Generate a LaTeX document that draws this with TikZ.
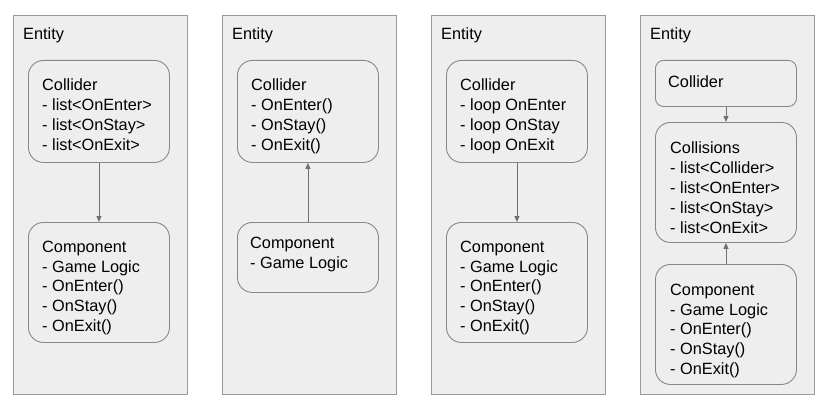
\documentclass[tikz,border=0pt]{standalone}
\usepackage{fontspec}
\setmainfont{Liberation Sans}
\usetikzlibrary{arrows.meta,calc}
\definecolor{panelfill}{HTML}{EEEEEE}
\definecolor{panelline}{HTML}{9A9A9A}
\definecolor{boxline}{HTML}{888888}
\definecolor{arrowc}{HTML}{707070}
\begin{document}
\begin{tikzpicture}[x=1pt,y=-1pt,
  panel/.style={draw=panelline, fill=panelfill, line width=0.9pt, anchor=north west, minimum width=174pt, minimum height=379pt, inner sep=0pt},
  box/.style={draw=boxline, fill=panelfill, line width=0.9pt, rounded corners=15pt, anchor=north west, minimum width=141pt, inner sep=0pt},
  txt/.style={anchor=north west, inner sep=0pt, align=left, font=\fontsize{16.3}{19.8}\selectfont, text=black},
  conn/.style={draw=arrowc, line width=0.9pt, -{Triangle[width=5pt,length=6pt]}}]
\useasboundingbox (0,0) rectangle (821,404);
\fill[white] (0,0) rectangle (821,404);
% panels
\node[panel] (p1) at (13,15) {};
\node[panel] (p2) at (222,15) {};
\node[panel] (p3) at (431,15) {};
\node[panel] (p4) at (640,15) {};
\node[txt] (e1) at (23,27.8) {Entity};
\node[txt] (e2) at (232,27.8) {Entity};
\node[txt] (e3) at (441,27.8) {Entity};
\node[txt] (e4) at (650,27.8) {Entity};
% panel 1
\node[box, minimum height=102pt] (c1) at (28,60) {};
\node[txt] (c1t) at (42,78.8) {Collider\\- list<OnEnter>\\- list<OnStay>\\- list<OnExit>};
\node[box, minimum height=120pt] (m1) at (28,222) {};
\node[txt] (m1t) at (42,240.8) {Component\\- Game Logic\\- OnEnter()\\- OnStay()\\- OnExit()};
\draw[conn] (c1.south) -- (m1.north);
% panel 2
\node[box, minimum height=102pt] (c2) at (237,60) {};
\node[txt] (c2t) at (251,78.8) {Collider\\- OnEnter()\\- OnStay()\\- OnExit()};
\node[box, minimum height=70pt] (m2) at (237,222) {};
\node[txt] (m2t) at (250,236.8) {Component\\- Game Logic};
\draw[conn] (m2.north) -- (c2.south);
% panel 3
\node[box, minimum height=102pt] (c3) at (446,60) {};
\node[txt] (c3t) at (460,78.8) {Collider\\- loop OnEnter\\- loop OnStay\\- loop OnExit};
\node[box, minimum height=120pt] (m3) at (446,222) {};
\node[txt] (m3t) at (460,240.8) {Component\\- Game Logic\\- OnEnter()\\- OnStay()\\- OnExit()};
\draw[conn] (c3.south) -- (m3.north);
% panel 4
\node[box, minimum height=46pt, rounded corners=8pt] (c4) at (655,60) {};
\node[txt] (c4t) at (668,75.8) {Collider};
\node[box, minimum height=120pt] (s4) at (655,122) {};
\node[txt] (s4t) at (670,141.8) {Collisions\\- list<Collider>\\- list<OnEnter>\\- list<OnStay>\\- list<OnExit>};
\node[box, minimum height=120pt] (m4) at (655,264) {};
\node[txt] (m4t) at (670,283.8) {Component\\- Game Logic\\- OnEnter()\\- OnStay()\\- OnExit()};
\draw[conn] (c4.south) -- (s4.north);
\draw[conn] (m4.north) -- (s4.south);
\end{tikzpicture}
\end{document}
